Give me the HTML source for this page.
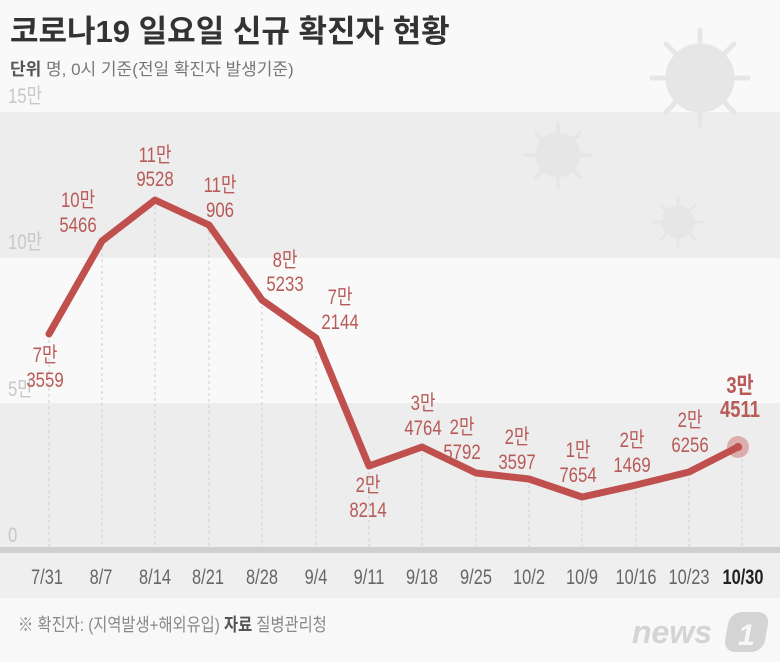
<!DOCTYPE html>
<html><head><meta charset="utf-8"><style>
html,body{margin:0;padding:0;background:#f9f9f9;}
svg{display:block;font-family:"Liberation Sans","Noto Sans CJK KR",sans-serif;}
</style></head><body>
<svg width="780" height="662" viewBox="0 0 780 662" xmlns="http://www.w3.org/2000/svg">
<rect width="780" height="662" fill="#f9f9f9"/>
<rect x="0" y="112" width="780" height="146" fill="#ededed"/>
<rect x="0" y="403" width="780" height="145" fill="#ededed"/>
<rect x="0" y="547" width="780" height="6" fill="#cfcfcf"/>
<rect x="0" y="553" width="780" height="45" fill="#efefef"/>
<rect x="0" y="598" width="780" height="64" fill="#f8f8f8"/>
<g fill="#e6e6e6" stroke="#e6e6e6">
<circle cx="700" cy="78" r="34"/>
<g stroke-width="5" stroke-linecap="round">
<line x1="700" y1="30" x2="700" y2="126"/><line x1="652" y1="78" x2="748" y2="78"/>
<line x1="666" y1="44" x2="734" y2="112"/><line x1="734" y1="44" x2="666" y2="112"/>
</g>
<circle cx="558" cy="155" r="22"/>
<g stroke-width="4" stroke-linecap="round">
<line x1="558" y1="123" x2="558" y2="187"/><line x1="526" y1="155" x2="590" y2="155"/>
<line x1="536" y1="133" x2="580" y2="177"/><line x1="580" y1="133" x2="536" y2="177"/>
</g>
<circle cx="678" cy="222" r="16"/>
<g stroke-width="3" stroke-linecap="round">
<line x1="678" y1="198" x2="678" y2="246"/><line x1="654" y1="222" x2="702" y2="222"/>
<line x1="661" y1="205" x2="695" y2="239"/><line x1="695" y1="205" x2="661" y2="239"/>
</g>
</g>
<text x="10" y="42" font-size="31" font-weight="bold" fill="#333">코로나19 일요일 신규 확진자 현황</text>
<text x="10" y="75" font-size="17" fill="#777"><tspan font-weight="bold" fill="#555">단위</tspan> 명, 0시 기준(전일 확진자 발생기준)</text>
<g font-size="21" fill="#c8c8c8">
<text transform="translate(8,103) scale(0.8,1)">15만</text>
<text transform="translate(8,249) scale(0.8,1)">10만</text>
<text transform="translate(8,396) scale(0.8,1)">5만</text>
<text transform="translate(8,542) scale(0.8,1)">0</text>
</g>
<g stroke="#cfcfcf" stroke-dasharray="3,3" stroke-width="1">
<line x1="49" y1="334" x2="49" y2="547"/><line x1="102" y1="241" x2="102" y2="547"/>
<line x1="155" y1="200" x2="155" y2="547"/><line x1="209" y1="225" x2="209" y2="547"/>
<line x1="262" y1="300" x2="262" y2="547"/><line x1="316" y1="338" x2="316" y2="547"/>
<line x1="369" y1="466" x2="369" y2="547"/><line x1="422" y1="447" x2="422" y2="547"/>
<line x1="476" y1="473" x2="476" y2="547"/><line x1="529" y1="479" x2="529" y2="547"/>
<line x1="582" y1="497" x2="582" y2="547"/><line x1="636" y1="485" x2="636" y2="547"/>
<line x1="689" y1="472" x2="689" y2="547"/><line x1="742" y1="447" x2="742" y2="547"/>
</g>
<polyline fill="none" stroke="#c0504d" stroke-width="7" stroke-linejoin="round" stroke-linecap="round"
points="49,334 102,241 155,200 209,225 262,300 316,338 369,466 422,447 476,473 529,479 582,497 636,485 689,472 738,447"/>
<circle cx="738" cy="447" r="11" fill="#c0504d" opacity="0.4"/>
<circle cx="738" cy="447" r="4" fill="#c0504d"/>
<g font-size="21" fill="#b85a57" text-anchor="middle">
<text transform="translate(45,362) scale(0.8,1)">7만</text><text transform="translate(45,387) scale(0.8,1)">3559</text>
<text transform="translate(78,207) scale(0.8,1)">10만</text><text transform="translate(78,232) scale(0.8,1)">5466</text>
<text transform="translate(155,162) scale(0.8,1)">11만</text><text transform="translate(155,186) scale(0.8,1)">9528</text>
<text transform="translate(220,192) scale(0.8,1)">11만</text><text transform="translate(220,217) scale(0.8,1)">906</text>
<text transform="translate(285,267) scale(0.8,1)">8만</text><text transform="translate(285,291) scale(0.8,1)">5233</text>
<text transform="translate(340,304) scale(0.8,1)">7만</text><text transform="translate(340,329) scale(0.8,1)">2144</text>
<text transform="translate(368,492) scale(0.8,1)">2만</text><text transform="translate(368,517) scale(0.8,1)">8214</text>
<text transform="translate(423,410) scale(0.8,1)">3만</text><text transform="translate(423,435) scale(0.8,1)">4764</text>
<text transform="translate(462,434) scale(0.8,1)">2만</text><text transform="translate(462,459) scale(0.8,1)">5792</text>
<text transform="translate(517,444) scale(0.8,1)">2만</text><text transform="translate(517,469) scale(0.8,1)">3597</text>
<text transform="translate(578,457) scale(0.8,1)">1만</text><text transform="translate(578,482) scale(0.8,1)">7654</text>
<text transform="translate(632,447) scale(0.8,1)">2만</text><text transform="translate(632,472) scale(0.8,1)">1469</text>
<text transform="translate(690,427) scale(0.8,1)">2만</text><text transform="translate(690,452) scale(0.8,1)">6256</text>
<text transform="translate(740,393) scale(0.8,1)" font-weight="bold" font-size="23">3만</text><text transform="translate(740,417) scale(0.8,1)" font-weight="bold" font-size="23">4511</text>
</g>
<g font-size="21" fill="#666" text-anchor="middle">
<text transform="translate(47,584) scale(0.78,1)">7/31</text><text transform="translate(101,584) scale(0.78,1)">8/7</text><text transform="translate(155,584) scale(0.78,1)">8/14</text>
<text transform="translate(208,584) scale(0.78,1)">8/21</text><text transform="translate(262,584) scale(0.78,1)">8/28</text><text transform="translate(316,584) scale(0.78,1)">9/4</text>
<text transform="translate(369,584) scale(0.78,1)">9/11</text><text transform="translate(422,584) scale(0.78,1)">9/18</text><text transform="translate(476,584) scale(0.78,1)">9/25</text>
<text transform="translate(529,584) scale(0.78,1)">10/2</text><text transform="translate(582,584) scale(0.78,1)">10/9</text><text transform="translate(636,584) scale(0.78,1)">10/16</text>
<text transform="translate(689,584) scale(0.78,1)">10/23</text><text transform="translate(743,584) scale(0.78,1)" font-weight="bold" fill="#222">10/30</text>
</g>
<text transform="translate(18,631) scale(0.85,1)" font-size="18" fill="#888">※ 확진자: (지역발생+해외유입) <tspan font-weight="bold" fill="#555">자료</tspan> 질병관리청</text>
<text x="632" y="643" font-size="32" font-weight="bold" font-style="italic" fill="#d4d4d4">news</text>
<rect x="728" y="612" width="40" height="40" rx="12" fill="#d4d4d4" transform="skewX(-10) translate(110,0)"/>
<text x="738" y="645" font-size="30" font-weight="bold" font-style="italic" fill="#f8f8f8">1</text>
</svg>
</body></html>
